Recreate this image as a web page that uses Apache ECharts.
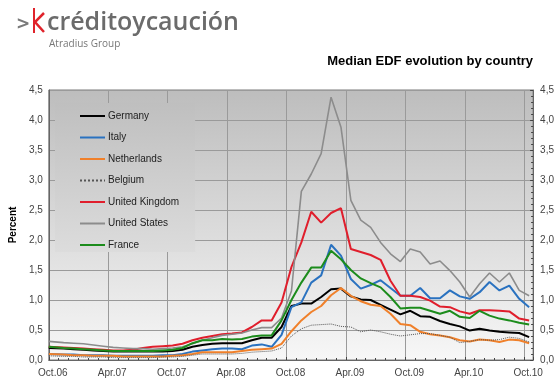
<!DOCTYPE html>
<html>
<head>
<meta charset="utf-8">
<script src="https://cdn.jsdelivr.net/npm/echarts@6/dist/echarts.min.js"></script>
<style>html,body{margin:0;padding:0;background:#fff;}#c{width:557px;height:385px;}</style>
</head>
<body>
<div id="c"></div>
<script>
// months since Oct.06
const months = [0, 1.5, 2.5, 3.5, 4.5, 5.5, 6.5, 7.5, 8.5, 9.5, 10.5, 11.5, 12.5, 13.5, 14.5, 15.5, 16.5, 17.5, 18.5, 19.5, 20.5, 21.5, 22.5, 23.5, 24.5, 25.5, 26.5, 27.5, 28.5, 29.5, 30.5, 31.5, 32.5, 33.5, 34.5, 35.5, 36.5, 37.5, 38.5, 39.5, 40.5, 41.5, 42.5, 43.5, 44.5, 45.5, 46.5, 47.5, 48.5];
const tickLabels = ['Oct.06', 'Apr.07', 'Oct.07', 'Apr.08', 'Oct.08', 'Apr.09', 'Oct.09', 'Apr.10', 'Oct.10'];
const countries = ['Germany', 'Italy', 'Netherlands', 'Belgium', 'United Kingdom', 'United States', 'France'];

const germany = [0.20, 0.19, 0.18, 0.17, 0.16, 0.15, 0.14, 0.14, 0.14, 0.14, 0.14, 0.14, 0.15, 0.17, 0.22, 0.25, 0.27, 0.28, 0.28, 0.28, 0.33, 0.37, 0.37, 0.55, 0.90, 0.94, 0.94, 1.05, 1.18, 1.19, 1.06, 1.01, 1.00, 0.92, 0.84, 0.76, 0.82, 0.73, 0.72, 0.65, 0.60, 0.56, 0.49, 0.52, 0.49, 0.47, 0.46, 0.45, 0.38];
const italy = [0.10, 0.09, 0.09, 0.08, 0.08, 0.08, 0.07, 0.07, 0.07, 0.07, 0.07, 0.08, 0.08, 0.10, 0.14, 0.16, 0.18, 0.19, 0.19, 0.18, 0.24, 0.26, 0.22, 0.42, 0.88, 0.96, 1.29, 1.41, 1.92, 1.74, 1.35, 1.19, 1.25, 1.33, 1.20, 1.07, 1.07, 1.20, 1.03, 1.03, 1.16, 1.06, 1.02, 1.13, 1.30, 1.16, 1.24, 1.02, 0.88];
const netherlands = [0.10, 0.09, 0.08, 0.08, 0.07, 0.07, 0.07, 0.06, 0.06, 0.06, 0.06, 0.06, 0.07, 0.08, 0.10, 0.13, 0.13, 0.13, 0.13, 0.15, 0.17, 0.18, 0.19, 0.27, 0.48, 0.66, 0.80, 0.90, 1.08, 1.20, 1.07, 0.98, 0.92, 0.90, 0.77, 0.60, 0.58, 0.47, 0.43, 0.41, 0.38, 0.33, 0.31, 0.34, 0.33, 0.30, 0.34, 0.33, 0.28];
const belgium = [0.07, 0.06, 0.06, 0.05, 0.05, 0.05, 0.04, 0.04, 0.04, 0.04, 0.04, 0.05, 0.05, 0.06, 0.08, 0.10, 0.10, 0.10, 0.10, 0.11, 0.13, 0.14, 0.15, 0.20, 0.40, 0.52, 0.58, 0.59, 0.60, 0.56, 0.55, 0.47, 0.50, 0.47, 0.43, 0.40, 0.42, 0.44, 0.44, 0.41, 0.38, 0.29, 0.31, 0.34, 0.33, 0.34, 0.38, 0.36, 0.30];
const unitedKingdom = [0.22, 0.21, 0.20, 0.19, 0.18, 0.17, 0.16, 0.16, 0.17, 0.20, 0.22, 0.23, 0.24, 0.27, 0.33, 0.37, 0.40, 0.43, 0.44, 0.46, 0.55, 0.66, 0.66, 0.96, 1.55, 1.96, 2.47, 2.29, 2.45, 2.53, 1.85, 1.80, 1.75, 1.67, 1.32, 1.07, 1.07, 1.05, 0.99, 0.89, 0.88, 0.81, 0.77, 0.83, 0.83, 0.82, 0.81, 0.69, 0.66];
const unitedStates = [0.31, 0.29, 0.28, 0.27, 0.25, 0.23, 0.21, 0.20, 0.19, 0.19, 0.18, 0.19, 0.20, 0.22, 0.27, 0.33, 0.37, 0.41, 0.43, 0.45, 0.50, 0.54, 0.54, 0.70, 1.15, 2.81, 3.10, 3.44, 4.38, 3.88, 2.66, 2.33, 2.21, 1.96, 1.77, 1.64, 1.85, 1.80, 1.60, 1.65, 1.49, 1.30, 1.05, 1.27, 1.45, 1.30, 1.45, 1.16, 1.07];
const france = [0.22, 0.20, 0.19, 0.18, 0.17, 0.16, 0.15, 0.15, 0.15, 0.15, 0.15, 0.16, 0.17, 0.20, 0.28, 0.33, 0.33, 0.35, 0.34, 0.35, 0.39, 0.41, 0.41, 0.66, 1.00, 1.29, 1.54, 1.54, 1.82, 1.68, 1.50, 1.36, 1.28, 1.21, 1.05, 0.86, 0.87, 0.87, 0.82, 0.77, 0.82, 0.72, 0.70, 0.82, 0.74, 0.69, 0.66, 0.62, 0.59];

const seriesValues = [germany, italy, netherlands, belgium, unitedKingdom, unitedStates, france];
const colors = ['#000000', '#2a72c0', '#f0802a', '#555555', '#e01e2c', '#8c8c8c', '#1c8c1c'];
const widths = [2, 2, 2, 1, 2, 1.6, 2];
const types = ['solid', 'solid', 'solid', 'dotted', 'solid', 'solid', 'solid'];

const FONT = '"Liberation Sans", Arial, sans-serif';
const chart = echarts.init(document.getElementById('c'), null, {renderer: 'canvas'});
const yFmt = v => v.toFixed(1).replace('.', ',');

const series = countries.map((name, k) => ({
  name: name,
  type: 'line',
  symbol: 'none',
  showSymbol: false,
  animation: false,
  lineStyle: {color: colors[k], width: widths[k], type: types[k]},
  itemStyle: {color: colors[k]},
  data: months.map((m, i) => [m, seriesValues[k][i]]),
  z: 3
}));

chart.setOption({
  animation: false,
  backgroundColor: '#ffffff',
  grid: {
    left: 37, right: 23, top: 90, bottom: 25,
    show: true,
    borderColor: '#7a7a7a', borderWidth: 1,
    backgroundColor: new echarts.graphic.LinearGradient(0, 0, 0, 1, [
      {offset: 0, color: '#bdbdbd'},
      {offset: 1, color: '#f7f7f7'}
    ])
  },
  title: {
    text: 'Median EDF evolution by country',
    right: 19, top: 50,
    textStyle: {fontFamily: FONT, fontSize: 13, fontWeight: 'bold', color: '#000'}
  },
  legend: {
    orient: 'vertical',
    left: 55, top: 103,
    itemWidth: 25, itemHeight: 8, itemGap: 11.5,
    padding: [8, 16, 2, 24],
    itemStyle: {opacity: 0},
    backgroundColor: new echarts.graphic.LinearGradient(0, 0, 0, 1, [
      {offset: 0, color: '#bfbfbf'},
      {offset: 1, color: '#dcdcdc'}
    ]),
    textStyle: {fontFamily: FONT, fontSize: 10, color: '#222', padding: [0, 0, 0, -2]},
    data: countries
  },
  xAxis: {
    type: 'value',
    min: 0, max: 48.9, interval: 6,
    axisLine: {show: true, lineStyle: {color: '#666'}},
    axisTick: {show: true, inside: true, length: 3, lineStyle: {color: '#444'}},
    minorTick: {show: true, splitNumber: 6, length: 2, lineStyle: {color: '#444'}},
    splitLine: {show: true, lineStyle: {color: '#9a9a9a', width: 1}},
    axisLabel: {
      fontFamily: FONT, fontSize: 10, color: '#444', margin: 8,
      padding: [0, 0, 0, 8],
      showMaxLabel: false,
      formatter: v => (v % 6 === 0 && v / 6 < tickLabels.length) ? tickLabels[v / 6] : ''
    }
  },
  yAxis: [{
    type: 'value', min: 0, max: 4.5, interval: 0.5,
    name: 'Percent', nameLocation: 'middle', nameGap: 29, nameRotate: 90,
    nameTextStyle: {fontFamily: FONT, fontSize: 10, fontWeight: 'bold', color: '#000'},
    axisLine: {show: true, lineStyle: {color: '#666'}},
    axisTick: {show: false},
    splitLine: {show: true, lineStyle: {color: '#9a9a9a', width: 1}},
    axisLabel: {fontFamily: FONT, fontSize: 10, color: '#444', margin: 6, formatter: yFmt}
  }, {
    type: 'value', min: 0, max: 4.5, interval: 0.5, position: 'right',
    axisLine: {show: true, lineStyle: {color: '#666'}},
    axisTick: {show: true, inside: true, length: 3, lineStyle: {color: '#444'}},
    minorTick: {show: true, splitNumber: 5, length: 2, lineStyle: {color: '#444'}},
    splitLine: {show: false},
    axisLabel: {fontFamily: FONT, fontSize: 10, color: '#444', margin: 7, formatter: yFmt}
  }],
  graphic: [
    {type: 'text', left: 16, top: 16, style: {text: '>', fontFamily: '"DejaVu Sans", sans-serif', fontSize: 17, fontWeight: 'bold', fill: '#7a7a7a'}},
    {type: 'polyline', shape: {points: [[44, 13], [35, 22], [44, 32]]}, style: {stroke: '#e0232b', lineWidth: 2.5, fill: 'none'}},
    {type: 'line', shape: {x1: 34, y1: 8, x2: 34, y2: 33}, style: {stroke: '#e0232b', lineWidth: 2}},
    {type: 'text', left: 47, top: 10, style: {text: 'créditoycaución', fontFamily: '"Open Sans", sans-serif', fontSize: 25, fontWeight: 600, fill: '#6b6b6b'}},
    {type: 'text', left: 49, top: 39, style: {text: 'Atradius Group', fontFamily: '"Open Sans", sans-serif', fontSize: 10, fill: '#777'}}
  ],
  series: series
});
</script>
</body>
</html>
